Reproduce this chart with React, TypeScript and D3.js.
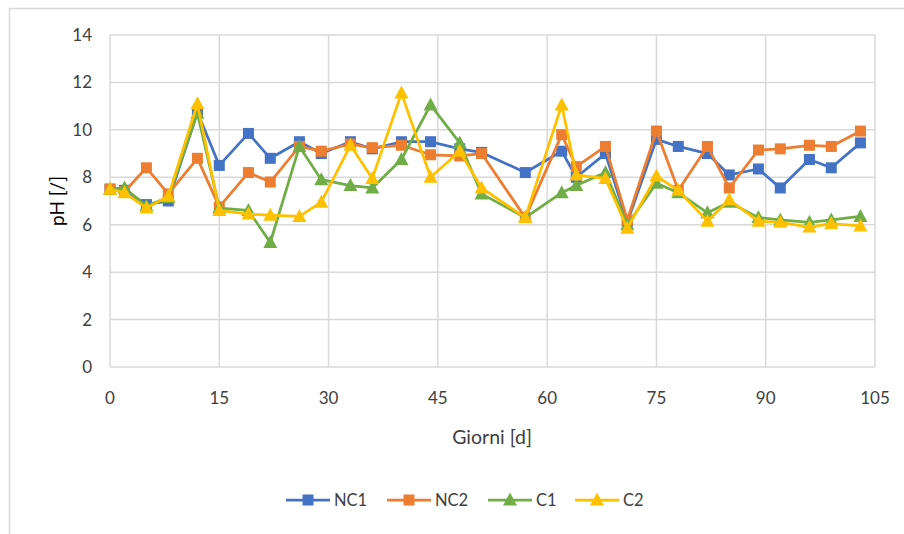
import React from "react";
import * as d3 from "d3";

const days = [0, 2, 5, 8, 12, 15, 19, 22, 26, 29, 33, 36, 40, 44, 48, 51, 57, 62, 64, 68, 71, 75, 78, 82, 85, 89, 92, 96, 99, 103];
const nc1 = [7.5, 7.45, 6.85, 7.0, 10.75, 8.5, 9.85, 8.8, 9.5, 9.0, 9.5, 9.2, 9.5, 9.5, 9.2, 9.05, 8.2, 9.1, 8.0, 9.0, 6.1, 9.6, 9.3, 9.0, 8.1, 8.35, 7.55, 8.75, 8.4, 9.45];
const nc2 = [7.5, 7.4, 8.4, 7.3, 8.8, 6.75, 8.2, 7.8, 9.3, 9.1, 9.4, 9.25, 9.35, 8.95, 8.9, 9.0, 6.3, 9.8, 8.45, 9.3, 6.2, 9.95, 7.45, 9.3, 7.55, 9.15, 9.2, 9.35, 9.3, 9.95];
const c1 = [7.5, 7.55, 6.8, 7.15, 10.7, 6.7, 6.6, 5.25, 9.3, 7.9, 7.65, 7.55, 8.75, 11.05, 9.45, 7.3, 6.3, 7.35, 7.65, 8.2, 6.0, 7.75, 7.35, 6.5, 6.95, 6.3, 6.2, 6.1, 6.2, 6.35];
const c2 = [7.5, 7.35, 6.7, 7.2, 11.1, 6.6, 6.45, 6.4, 6.35, 6.95, 9.35, 7.95, 11.55, 8.0, 9.1, 7.55, 6.3, 11.05, 8.1, 7.95, 5.85, 8.05, 7.45, 6.15, 7.05, 6.15, 6.1, 5.9, 6.05, 5.95];

const xTicks = [0, 15, 30, 45, 60, 75, 90, 105];
const yTicks = [0, 2, 4, 6, 8, 10, 12, 14];

const seriesNames = ["NC1", "NC2", "C1", "C2"];
const seriesValues = [nc1, nc2, c1, c2];
const seriesColors = ["#4472C4", "#ED7D31", "#70AD47", "#FFC000"];
const seriesShapes = ["square", "square", "triangle", "triangle"];

const W = 904;
const H = 534;
const FONT = "Lato, 'Open Sans', sans-serif";

function Marker({ shape, x, y, color }: { shape: string; x: number; y: number; color: string }) {
  if (shape === "square") {
    const s = 11;
    return <rect x={x - s / 2} y={y - s / 2} width={s} height={s} fill={color} />;
  }
  const p = d3.path();
  p.moveTo(x, y - 7.5);
  p.lineTo(x + 7, y + 5.5);
  p.lineTo(x - 7, y + 5.5);
  p.closePath();
  return <path d={p.toString()} fill={color} />;
}

export default function App() {
  const x = d3.scaleLinear().domain([0, 105]).range([110, 875]);
  const y = d3.scaleLinear().domain([0, 14]).range([367, 35]);
  const line = d3
    .line<number>()
    .x((_, i) => x(days[i]))
    .y((v) => y(v));

  const legendX = [286, 387, 488, 575];

  return (
    <svg
      width={W}
      height={H}
      style={{ position: "absolute", left: 0, top: 0, background: "#fff" }}
      fontFamily={FONT}
    >
      {/* chart container frame */}
      <rect x={9.5} y={8.5} width={W + 20} height={H + 20} fill="none" stroke="#d9d9d9" strokeWidth={1.5} />

      {/* gridlines */}
      {yTicks.map((t) => (
        <line key={"gy" + t} x1={x(0)} x2={x(105)} y1={y(t)} y2={y(t)} stroke="#d9d9d9" strokeWidth={1.5} />
      ))}
      {xTicks.map((t) => (
        <line key={"gx" + t} x1={x(t)} x2={x(t)} y1={y(0)} y2={y(14)} stroke="#d9d9d9" strokeWidth={1.5} />
      ))}

      {/* tick labels */}
      {yTicks.map((t) => (
        <text key={"ty" + t} x={92} y={y(t)} dy="0.35em" textAnchor="end" fontSize={17} fill="#404040">
          {t}
        </text>
      ))}
      {xTicks.map((t) => (
        <text key={"tx" + t} x={x(t)} y={398} dy="0.35em" textAnchor="middle" fontSize={17} fill="#404040">
          {t}
        </text>
      ))}

      {/* axis titles */}
      <text x={492} y={437} dy="0.35em" textAnchor="middle" fontSize={19.5} fill="#404040">
        Giorni [d]
      </text>
      <text
        transform={`translate(57,${y(7)}) rotate(-90)`}
        dy="0.35em"
        textAnchor="middle"
        fontSize={19}
        fill="#000"
      >
        pH [/]
      </text>

      {/* series */}
      {seriesValues.map((vals, si) => (
        <g key={seriesNames[si]}>
          <path d={line(vals) || ""} fill="none" stroke={seriesColors[si]} strokeWidth={2.75} strokeLinejoin="round" />
          {vals.map((v, i) => (
            <Marker key={i} shape={seriesShapes[si]} x={x(days[i])} y={y(v)} color={seriesColors[si]} />
          ))}
        </g>
      ))}

      {/* legend */}
      {seriesNames.map((name, si) => {
        const lx = legendX[si];
        return (
          <g key={"lg" + name}>
            <line x1={lx} x2={lx + 44} y1={500} y2={500} stroke={seriesColors[si]} strokeWidth={2.75} />
            <Marker shape={seriesShapes[si]} x={lx + 22} y={500} color={seriesColors[si]} />
            <text x={lx + 48} y={500} dy="0.35em" fontSize={16.5} fill="#404040">
              {name}
            </text>
          </g>
        );
      })}
    </svg>
  );
}
